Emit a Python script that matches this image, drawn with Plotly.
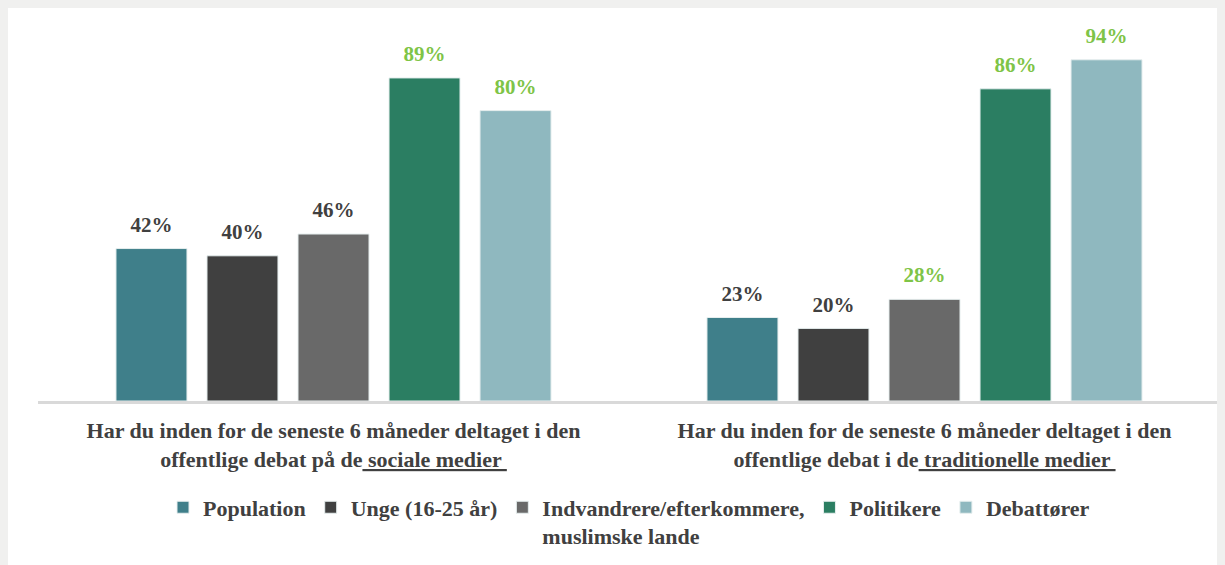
import plotly.graph_objects as go

categories = [
    "Har du inden for de seneste 6 måneder deltaget i den<br>offentlige debat på de<u> sociale medier </u>",
    "Har du inden for de seneste 6 måneder deltaget i den<br>offentlige debat i de<u> traditionelle medier </u>",
]
series_names = [
    "Population",
    "Unge (16-25 år)",
    "Indvandrere/efterkommere,<br>muslimske lande",
    "Politikere",
    "Debattører",
]
population = [0.42, 0.23]
unge = [0.40, 0.20]
indvandrere = [0.46, 0.28]
politikere = [0.89, 0.86]
debattoerer = [0.80, 0.94]

series_values = [population, unge, indvandrere, politikere, debattoerer]
bar_colors = ["#3f7f8a", "#404040", "#696969", "#2b7e62", "#8fb8bf"]
DARK = "#404040"
GREEN = "#7ec447"
label_colors = [
    [DARK, DARK],
    [DARK, DARK],
    [DARK, GREEN],
    [GREEN, GREEN],
    [GREEN, GREEN],
]

FONT = "Liberation Serif"
GAP = 0.23

fig = go.Figure()
for i, (name, vals, col) in enumerate(zip(series_names, series_values, bar_colors)):
    fig.add_trace(go.Bar(
        name=name,
        x=categories,
        y=vals,
        marker=dict(color=col, line=dict(color="#e6eeee", width=1)),
        hoverinfo="skip",
    ))
for i, (name, vals, lcols) in enumerate(zip(series_names, series_values, label_colors)):
    fig.add_trace(go.Scatter(
        x=categories,
        y=vals,
        mode="markers+text",
        marker=dict(size=17, opacity=0),
        text=[f"<b>{round(v*100)}%</b>" for v in vals],
        textposition="top center",
        textfont=dict(family=FONT, size=21, color=lcols),
        showlegend=False,
        cliponaxis=False,
        hoverinfo="skip",
    ))

fig.update_layout(
    width=1217,
    height=557,
    margin=dict(l=30, r=5, t=30, b=164, autoexpand=False),
    paper_bgcolor="white",
    plot_bgcolor="white",
    barmode="group",
    bargap=GAP,
    bargroupgap=0.22,
    scattermode="group",
    scattergap=GAP,
    font=dict(family=FONT, color=DARK),
    showlegend=True,
    legend=dict(
        orientation="h",
        x=0.5, xanchor="center",
        yref="container",
        y=0.141, yanchor="top",
        font=dict(family=FONT, size=22, color=DARK, weight="bold"),
        valign="top",
        traceorder="normal",
        bgcolor="rgba(0,0,0,0)",
    ),
)

fig.update_xaxes(
    showline=True,
    linecolor="#d9d9d9",
    linewidth=3,
    ticks="",
    tickfont=dict(family=FONT, size=22, color=DARK, weight="bold"),
    ticklabelstandoff=8,
    showgrid=False,
    automargin=False,
)
fig.update_yaxes(
    range=[0, 1.0],
    visible=False,
    showgrid=False,
    zeroline=False,
)

# extend the baseline rule to the right edge, as in the original
fig.add_shape(
    type="line", xref="paper", yref="paper",
    x0=1, x1=1.01, y0=0, y1=0,
    line=dict(color="#d9d9d9", width=3), layer="below",
)

fig.write_html(
    "out.html",
    post_script="document.body.style.background='#f0f0ef';",
)
